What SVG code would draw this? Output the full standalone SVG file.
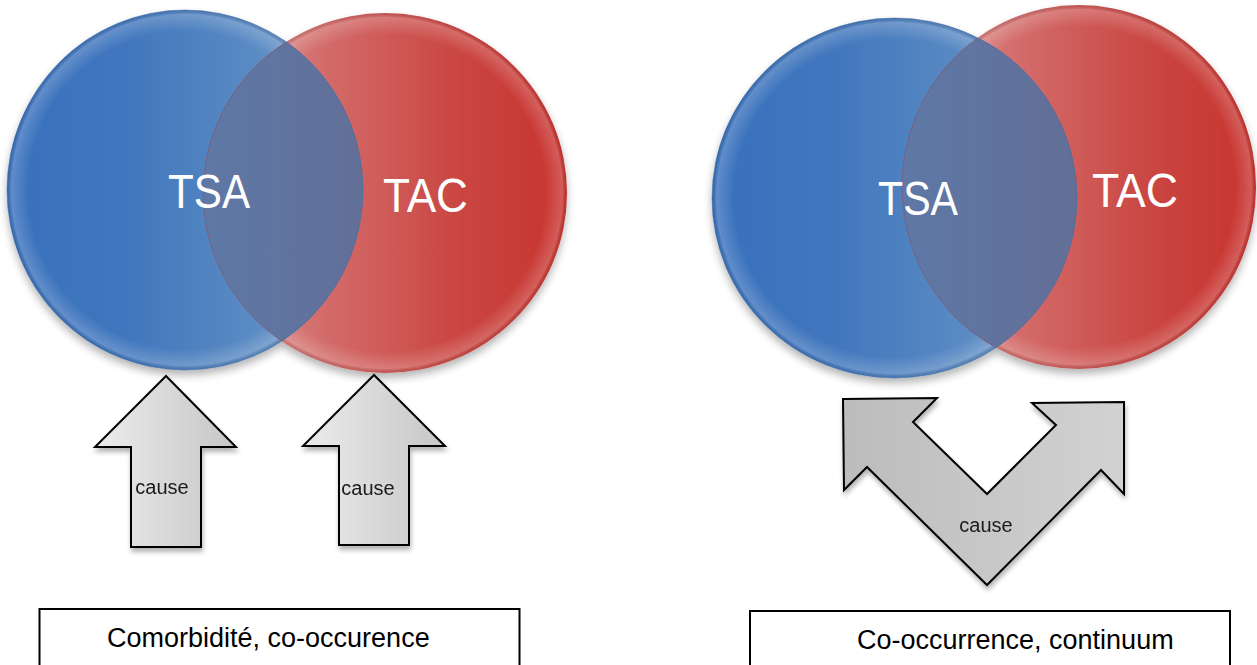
<svg xmlns="http://www.w3.org/2000/svg" width="1257" height="665" viewBox="0 0 1257 665">
  <defs>
    <linearGradient id="gBlue" x1="0" y1="0" x2="1" y2="0">
      <stop offset="0" stop-color="#3870bd"/>
      <stop offset="0.35" stop-color="#4177bd"/>
      <stop offset="0.7" stop-color="#5b8bc3"/>
      <stop offset="1" stop-color="#7aa3d4"/>
    </linearGradient>
    <linearGradient id="gRed" x1="0" y1="0" x2="1" y2="0">
      <stop offset="0" stop-color="#dc9694"/>
      <stop offset="0.35" stop-color="#d26a68"/>
      <stop offset="0.7" stop-color="#ca4642"/>
      <stop offset="1" stop-color="#c8332f"/>
    </linearGradient>
    <linearGradient id="gLens" x1="0" y1="0" x2="1" y2="0">
      <stop offset="0" stop-color="#5e78a6"/>
      <stop offset="0.5" stop-color="#636e96"/>
      <stop offset="1" stop-color="#775f7f"/>
    </linearGradient>
    <linearGradient id="gArrow" x1="0" y1="0" x2="1" y2="0">
      <stop offset="0" stop-color="#ececec"/>
      <stop offset="1" stop-color="#c6c6c6"/>
    </linearGradient>
    <linearGradient id="gV" x1="0" y1="0" x2="1" y2="0">
      <stop offset="0" stop-color="#bcbcbc"/>
      <stop offset="1" stop-color="#d2d2d2"/>
    </linearGradient>
    <radialGradient id="gGloss" cx="0.5" cy="0.5" r="0.5">
      <stop offset="0.88" stop-color="#ffffff" stop-opacity="0"/>
      <stop offset="0.975" stop-color="#ffffff" stop-opacity="0.2"/>
      <stop offset="1" stop-color="#000000" stop-opacity="0.06"/>
    </radialGradient>
    <filter id="shadow" x="-20%" y="-20%" width="140%" height="150%">
      <feGaussianBlur in="SourceAlpha" stdDeviation="4"/>
      <feOffset dx="0" dy="5" result="b"/>
      <feComponentTransfer><feFuncA type="linear" slope="0.3"/></feComponentTransfer>
      <feMerge><feMergeNode/><feMergeNode in="SourceGraphic"/></feMerge>
    </filter>
    <filter id="ashadow" x="-20%" y="-20%" width="140%" height="140%">
      <feGaussianBlur in="SourceAlpha" stdDeviation="2.5"/>
      <feOffset dx="1" dy="4" result="b"/>
      <feComponentTransfer><feFuncA type="linear" slope="0.3"/></feComponentTransfer>
      <feMerge><feMergeNode/><feMergeNode in="SourceGraphic"/></feMerge>
    </filter>
    <clipPath id="clipBlueL"><ellipse cx="185" cy="190" rx="178" ry="180"/></clipPath>
    <clipPath id="clipBlueR"><ellipse cx="894.5" cy="198" rx="182.5" ry="180"/></clipPath>
  </defs>
  <style>
    .circ { font-family: "Liberation Sans", Arial, sans-serif; fill: #ffffff; font-size: 49px; }
    .lbl { font-family: "Liberation Sans", Arial, sans-serif; fill: #1a1a1a; font-size: 20px; }
    .box { fill: #ffffff; stroke: #000000; stroke-width: 2; }
    .boxtxt { font-family: "Liberation Sans", Arial, sans-serif; fill: #000000; font-size: 27px; }
    .arrow { stroke: #000000; stroke-width: 2; stroke-linejoin: miter; }
    .rim { fill: url(#gGloss); }
    .edgeB { fill: none; stroke: #3a64a0; stroke-width: 1; stroke-opacity: 0.5; }
    .edgeR { fill: none; stroke: #a83a38; stroke-width: 1; stroke-opacity: 0.4; }
  </style>

  <!-- Left Venn -->
  <g id="venn-left" filter="url(#shadow)">
    <g id="left-tac">
      <ellipse cx="385" cy="193" rx="182" ry="180" fill="url(#gRed)"/>
      <ellipse cx="385" cy="193" rx="182" ry="180" class="rim"/>
    </g>
    <g id="left-tsa">
      <ellipse cx="185" cy="190" rx="178" ry="180" fill="url(#gBlue)"/>
      <ellipse cx="185" cy="190" rx="178" ry="180" class="rim"/>
    </g>
    <g id="left-overlap">
      <ellipse cx="385" cy="193" rx="182" ry="180" fill="url(#gLens)" clip-path="url(#clipBlueL)"/>
      <ellipse cx="385" cy="193" rx="182" ry="180" class="edgeR" clip-path="url(#clipBlueL)"/>
      <ellipse cx="185" cy="190" rx="178" ry="180" class="edgeB"/>
    </g>
  </g>
  <text class="circ" x="168" y="208" textLength="82" lengthAdjust="spacingAndGlyphs">TSA</text>
  <text class="circ" x="383" y="212" textLength="85" lengthAdjust="spacingAndGlyphs">TAC</text>

  <!-- Right Venn -->
  <g id="venn-right" filter="url(#shadow)">
    <g id="right-tac">
      <ellipse cx="1079" cy="187" rx="177" ry="182" fill="url(#gRed)"/>
      <ellipse cx="1079" cy="187" rx="177" ry="182" class="rim"/>
    </g>
    <g id="right-tsa">
      <ellipse cx="894.5" cy="198" rx="182.5" ry="180" fill="url(#gBlue)"/>
      <ellipse cx="894.5" cy="198" rx="182.5" ry="180" class="rim"/>
    </g>
    <g id="right-overlap">
      <ellipse cx="1079" cy="187" rx="177" ry="182" fill="url(#gLens)" clip-path="url(#clipBlueR)"/>
      <ellipse cx="1079" cy="187" rx="177" ry="182" class="edgeR" clip-path="url(#clipBlueR)"/>
      <ellipse cx="894.5" cy="198" rx="182.5" ry="180" class="edgeB"/>
    </g>
  </g>
  <text class="circ" x="878" y="215" textLength="80" lengthAdjust="spacingAndGlyphs">TSA</text>
  <text class="circ" x="1092" y="207" textLength="86" lengthAdjust="spacingAndGlyphs">TAC</text>

  <!-- Connectors: block arrows -->
  <g id="connectors">
    <g id="arrow-cause-tsa" filter="url(#ashadow)">
      <polygon class="arrow" fill="url(#gArrow)" points="166,376 95,447 131,447 131,547 201,547 201,447 236,447"/>
      <text class="lbl" x="162" y="494" text-anchor="middle">cause</text>
    </g>
    <g id="arrow-cause-tac" filter="url(#ashadow)">
      <polygon class="arrow" fill="url(#gArrow)" points="374,375 303,446 339,446 339,545 409,545 409,446 445,446"/>
      <text class="lbl" x="368" y="495" text-anchor="middle">cause</text>
    </g>
    <g id="arrow-cause-both" filter="url(#ashadow)">
      <polygon class="arrow" fill="url(#gV)" points="843,399 937,398 913,422 987,494 1056,425 1032,403 1124,402 1124,494 1101,470 987,585 867,467 844,490"/>
      <text class="lbl" x="986" y="532" text-anchor="middle">cause</text>
    </g>
  </g>

  <!-- Caption boxes -->
  <g id="caption-left">
    <rect class="box" x="39.5" y="609" width="480" height="70"/>
    <text class="boxtxt" x="107" y="647">Comorbidité, co-occurence</text>
  </g>
  <g id="caption-right">
    <rect class="box" x="750" y="611" width="480" height="70"/>
    <text class="boxtxt" x="857" y="649">Co-occurrence, continuum</text>
  </g>
</svg>
